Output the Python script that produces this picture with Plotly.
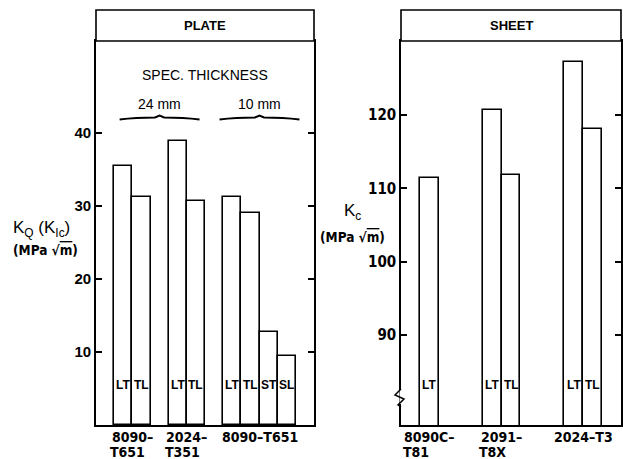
import plotly.graph_objects as go

# ---------------- data ----------------
plate_groups = ["8090–<br>T651", "2024–<br>T351", "8090–T651"]
plate_orient = [["LT", "TL"], ["LT", "TL"], ["LT", "TL", "ST", "SL"]]
plate_kq = [[35.5, 31.3], [38.9, 30.7], [31.2, 29.1, 12.7, 9.4]]
thickness_labels = ["24 mm", "10 mm"]
thickness_groups = [[0, 1], [2]]

sheet_groups = ["8090C–<br>T81", "2091–<br>T8X", "2024–T3"]
sheet_orient = [["LT"], ["LT", "TL"], ["LT", "TL"]]
sheet_kc = [[111.4], [120.7, 111.8], [127.2, 118.1]]

plate_ticks = [10, 20, 30, 40]
sheet_ticks = [90, 100, 110, 120]

# ---------------- layout helpers ----------------
W, H = 623, 459
def px(x):
    return x / W
def py(y):
    return 1 - y / H

COND = "Liberation Sans Narrow, DejaVu Sans Condensed, Liberation Sans, Arial"
SANS = "Liberation Sans, Arial, Helvetica"


def positions(groups_orient, gap):
    pos, cur = [], 0.0
    for g in groups_orient:
        gp = []
        for _ in g:
            gp.append(cur)
            cur += 1
        pos.append(gp)
        cur += gap
    return pos

plate_pos = positions(plate_orient, 1.0)
sheet_pos = positions(sheet_orient, 2.3)

fig = go.Figure()

def flat(v):
    return [a for g in v for a in g]

fig.add_trace(go.Bar(x=flat(plate_pos), y=flat(plate_kq), width=1,
                     marker=dict(color="white", line=dict(color="black", width=1.6)),
                     xaxis="x", yaxis="y", showlegend=False, hoverinfo="skip"))
fig.add_trace(go.Bar(x=flat(sheet_pos), y=flat(sheet_kc), width=1,
                     marker=dict(color="white", line=dict(color="black", width=1.6)),
                     xaxis="x2", yaxis="y2", showlegend=False, hoverinfo="skip"))

ytop, ybot = 41, 425
axis_common = dict(showline=True, linecolor="black", linewidth=1.6, mirror="ticks",
                   showgrid=False, zeroline=False)
fig.update_layout(
    width=W, height=H, margin=dict(l=0, r=0, t=0, b=0),
    paper_bgcolor="white", plot_bgcolor="white", bargap=0,
    xaxis=dict(domain=[px(96), px(314)], range=[-1.5, 10.5], showticklabels=False,
               ticks="", **axis_common, anchor="y"),
    yaxis=dict(domain=[py(ybot), py(ytop)], range=[0, 52.6], tickvals=plate_ticks,
               ticks="inside", ticklen=6, tickwidth=1.6, tickcolor="black",
               tickfont=dict(family=SANS, size=15, color="black", weight="bold"),
               **axis_common, anchor="x"),
    xaxis2=dict(domain=[px(401), px(621)], range=[-1.5, 10.1], showticklabels=False,
                ticks="", **axis_common, anchor="y2"),
    yaxis2=dict(domain=[py(ybot), py(ytop)], range=[77.73, 130.09], tickvals=sheet_ticks,
                ticks="inside", ticklen=6, tickwidth=1.6, tickcolor="black",
                tickfont=dict(family=COND, size=15, color="black", weight="bold"),
                **axis_common, anchor="x2"),
)

ann = []
shapes = []

def A(**kw):
    d = dict(showarrow=False, xanchor="center", yanchor="middle")
    d.update(kw)
    ann.append(d)

# header boxes
for xr, title in [("x", "PLATE"), ("x2", "SHEET")]:
    shapes.append(dict(type="rect", xref=f"{xr} domain", yref="paper",
                       x0=0, x1=1, y0=py(ytop), y1=py(10),
                       line=dict(color="black", width=1.6), fillcolor="white"))
    A(text=title, xref=f"{xr} domain", yref="paper", x=0.5, y=py(26),
      font=dict(family=SANS, size=13, color="black", weight="bold"))

# bar orientation labels
for pos, orient, xr, yr, yv in [(plate_pos, plate_orient, "x", "y", 5.5),
                                (sheet_pos, sheet_orient, "x2", "y2", 83.2)]:
    for gp, go_ in zip(pos, orient):
        for p, o in zip(gp, go_):
            A(text=o, x=p, y=yv, xref=xr, yref=yr,
              font=dict(family=SANS, size=12, color="black", weight="bold"))

# group labels under axes
for pos, groups, xr in [(plate_pos, plate_groups, "x"), (sheet_pos, sheet_groups, "x2")]:
    for gp, lab in zip(pos, groups):
        cx = sum(gp) / len(gp)
        lines = lab.split("<br>")
        longest = max(len(l) for l in lines)
        for i, line in enumerate(lines):
            txt = line.ljust(longest).replace(" ", "\u2007") if len(lines) > 1 else line
            A(text=txt, x=cx, y=py(437 + 14.5 * i), xref=xr, yref="paper",
              font=dict(family=COND, size=14, color="black", weight="bold"))

# spec thickness text and braces
A(text="SPEC. THICKNESS", xref="x domain", yref="paper", x=0.5, y=py(75),
  font=dict(family=SANS, size=14, color="black"))
for lab, grps in zip(thickness_labels, thickness_groups):
    allp = [p for g in grps for p in plate_pos[g]]
    cx = (min(allp) + max(allp)) / 2
    A(text=lab, x=cx, xref="x", yref="paper", y=py(104),
      font=dict(family=SANS, size=14, color="black"))
    hw = 2.2
    y0 = py(119.5); ym = py(117.5); yp = py(115.5)
    path = (f"M {cx-hw},{y0} Q {cx-hw*0.6},{ym} {cx-0.25},{ym} L {cx},{yp} "
            f"L {cx+0.25},{ym} Q {cx+hw*0.6},{ym} {cx+hw},{y0}")
    shapes.append(dict(type="path", xref="x", yref="paper", path=path,
                       line=dict(color="black", width=2)))

# y-axis titles
A(text="K<sub>Q</sub> (K<sub>Ic</sub>)", xref="paper", yref="paper",
  x=px(11), y=py(229), xanchor="left",
  font=dict(family=SANS, size=17, color="black"))
A(text="(MPa √<span style='text-decoration:overline'>m</span>)", xref="paper", yref="paper",
  x=px(11), y=py(250), xanchor="left",
  font=dict(family=COND, size=13.5, color="black", weight="bold"))
A(text="K<sub>c</sub>", xref="paper", yref="paper", x=px(352), y=py(212),
  font=dict(family=SANS, size=17, color="black"))
A(text="(MPa √<span style='text-decoration:overline'>m</span>)", xref="paper", yref="paper",
  x=px(352), y=py(237),
  font=dict(family=COND, size=13.5, color="black", weight="bold"))

# axis break on sheet y axis
shapes.append(dict(type="line", xref="paper", yref="paper", x0=px(401), x1=px(401),
                   y0=py(390), y1=py(404), line=dict(color="white", width=3)))
shapes.append(dict(type="path", xref="paper", yref="paper",
                   path=f"M {px(401)},{py(389)} L {px(395)},{py(395)} L {px(404)},{py(399)} L {px(398)},{py(405)} L {px(401)},{py(407)}",
                   line=dict(color="black", width=1.5)))

fig.update_layout(annotations=ann, shapes=shapes)
fig.write_html("out.html", config={"displayModeBar": False},
               post_script="document.body.style.margin='0';document.body.style.padding='0';")
